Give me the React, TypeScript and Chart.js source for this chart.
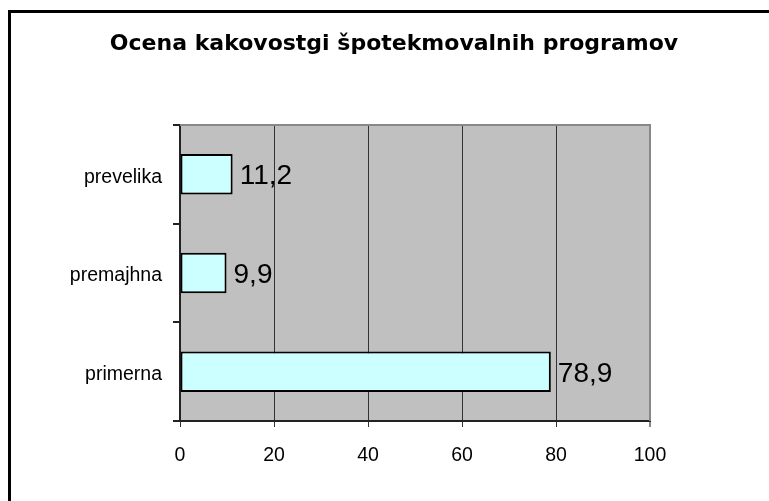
import React, { useEffect, useRef } from "react";
import { Chart, registerables } from "chart.js";

Chart.register(...registerables);

const TITLE = "Ocena kakovostgi špotekmovalnih programov";
const categories = ["prevelika", "premajhna", "primerna"];
const values = [11.2, 9.9, 78.9];
const xMin = 0;
const xMax = 100;
const xStep = 20;

const FONT = "'Liberation Sans', Arial, sans-serif";
const TITLE_FONT = "'DejaVu Sans', sans-serif";

const fmt = (v: number) => v.toFixed(1).replace(".", ",");

const backgroundPlugin = {
  id: "bgPlot",
  beforeDraw(chart: any) {
    const { ctx, chartArea } = chart;
    ctx.save();
    ctx.fillStyle = "#ffffff";
    ctx.fillRect(0, 0, chart.width, chart.height);
    ctx.fillStyle = "#c0c0c0";
    ctx.fillRect(chartArea.left, chartArea.top, chartArea.right - chartArea.left, chartArea.bottom - chartArea.top);
    ctx.restore();
  },
  beforeDatasetsDraw(chart: any) {
    const { ctx, chartArea } = chart;
    ctx.save();
    ctx.strokeStyle = "#888888";
    ctx.lineWidth = 2;
    ctx.beginPath();
    ctx.moveTo(chartArea.left, chartArea.top);
    ctx.lineTo(chartArea.right, chartArea.top);
    ctx.lineTo(chartArea.right, chartArea.bottom);
    ctx.stroke();
    ctx.restore();
  },
  afterDraw(chart: any) {
    const { ctx } = chart;
    ctx.save();
    ctx.fillStyle = "#000000";
    ctx.fillRect(8, 10, 3, chart.height);
    ctx.fillRect(8, 10, chart.width, 3);
    ctx.restore();
  },
};

const valueLabelPlugin = {
  id: "valueLabels",
  afterDatasetsDraw(chart: any) {
    const { ctx } = chart;
    const meta = chart.getDatasetMeta(0);
    ctx.save();
    ctx.fillStyle = "#000000";
    ctx.font = `28px ${FONT}`;
    ctx.textAlign = "left";
    ctx.textBaseline = "alphabetic";
    meta.data.forEach((el: any, i: number) => {
      ctx.fillText(fmt(values[i]), el.x + 7, el.y + 10);
    });
    ctx.restore();
  },
};

export default function App() {
  const ref = useRef<HTMLCanvasElement | null>(null);

  useEffect(() => {
    if (!ref.current) return;
    const chart = new Chart(ref.current, {
      type: "bar",
      data: {
        labels: categories,
        datasets: [
          {
            data: values,
            backgroundColor: "#ccffff",
            borderColor: "#000000",
            borderWidth: 2,
            borderSkipped: false,
            categoryPercentage: 1,
            barPercentage: 0.41,
          },
        ],
      },
      options: {
        indexAxis: "y",
        animation: false,
        responsive: false,
        devicePixelRatio: 1,
        layout: { padding: { left: 19, right: 0, top: 0, bottom: 0 } },
        plugins: {
          legend: { display: false },
          tooltip: { enabled: false },
          title: {
            display: true,
            text: TITLE,
            color: "#000000",
            font: { family: TITLE_FONT, size: 22, weight: "bold", lineHeight: 1.2 },
            padding: { top: 31.5, bottom: 67.1 },
          },
        },
        scales: {
          x: {
            type: "linear",
            min: xMin,
            max: xMax,
            afterFit: (scale: any) => {
              scale.height = 80;
            },
            ticks: {
              stepSize: xStep,
              color: "#000000",
              padding: 17,
              font: { family: FONT, size: 19.5 },
              callback: (v: any) => String(v),
            },
            grid: {
              color: (c: any) => (c.tick && c.tick.value === xMax ? "#888888" : "#333333"),
              lineWidth: (c: any) => (c.tick && c.tick.value === xMax ? 2 : 1),
              tickLength: 6,
              drawTicks: true,
            },
            border: { display: true, color: "#222222", width: 2 },
          },
          y: {
            type: "category",
            afterFit: (scale: any) => {
              scale.width = 161;
            },
            ticks: {
              color: "#000000",
              padding: 11,
              labelOffset: 3,
              font: { family: FONT, size: 19.5 },
            },
            grid: {
              drawOnChartArea: false,
              drawTicks: true,
              tickLength: 7,
              color: "#222222",
              lineWidth: 2,
              offset: true,
            },
            border: { display: true, color: "#222222", width: 2 },
          },
          spacer: {
            type: "linear",
            position: "right",
            axis: "y",
            display: true,
            afterFit: (scale: any) => {
              scale.width = 119;
            },
            ticks: { display: false },
            grid: { display: false, drawTicks: false },
            border: { display: false },
          },
        },
      },
      plugins: [backgroundPlugin, valueLabelPlugin],
    });
    return () => chart.destroy();
  }, []);

  return (
    <div style={{ position: "fixed", left: 0, top: 0, width: 769, height: 501, overflow: "hidden", background: "#fff" }}>
      <canvas ref={ref} width={769} height={501} style={{ display: "block", width: 769, height: 501 }} />
    </div>
  );
}
